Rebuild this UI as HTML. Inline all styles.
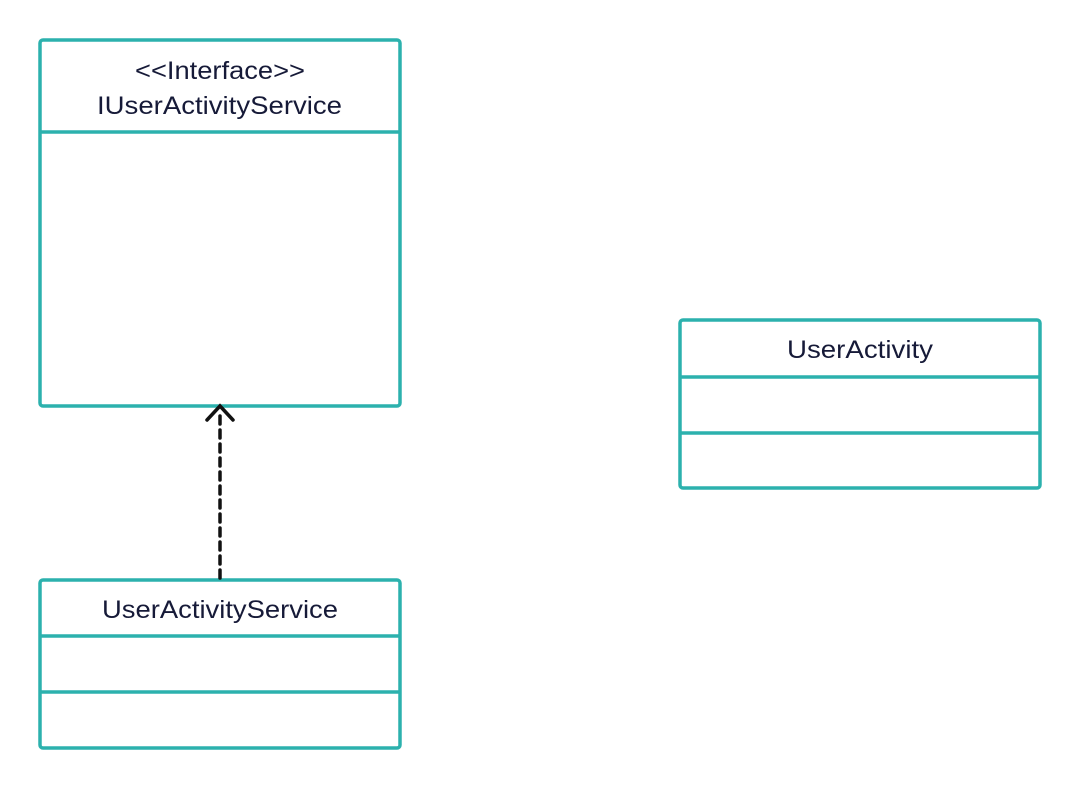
<!DOCTYPE html>
<html><head><meta charset="utf-8"><style>
html,body{margin:0;padding:0;background:#fff;}
svg text{font-family:"Liberation Sans",sans-serif;font-size:25px;fill:#161a38;}
</style></head><body>
<svg width="1081" height="789" viewBox="0 0 1081 789" xmlns="http://www.w3.org/2000/svg">
<g fill="none" stroke="#2cb1ad" stroke-width="3.5">
<rect x="40" y="40" width="360" height="366" rx="3"/>
<line x1="40" y1="132" x2="400" y2="132"/>
<rect x="680" y="320" width="360" height="168" rx="3"/>
<line x1="680" y1="377" x2="1040" y2="377"/>
<line x1="680" y1="433" x2="1040" y2="433"/>
<rect x="40" y="580" width="360" height="168" rx="3"/>
<line x1="40" y1="636" x2="400" y2="636"/>
<line x1="40" y1="692" x2="400" y2="692"/>
</g>
<line x1="220" y1="578" x2="220" y2="410" stroke="#111" stroke-width="3.5" stroke-dasharray="8,6" stroke-linecap="round"/>
<polyline points="207,420 220,406 233,420" fill="none" stroke="#111" stroke-width="3.5" stroke-linecap="round"/>
<text x="135" y="79" textLength="170" lengthAdjust="spacingAndGlyphs">&lt;&lt;Interface&gt;&gt;</text>
<text x="97" y="114" textLength="245" lengthAdjust="spacingAndGlyphs">IUserActivityService</text>
<text x="787" y="358" textLength="146" lengthAdjust="spacingAndGlyphs">UserActivity</text>
<text x="102" y="618" textLength="236" lengthAdjust="spacingAndGlyphs">UserActivityService</text>
</svg>
</body></html>
